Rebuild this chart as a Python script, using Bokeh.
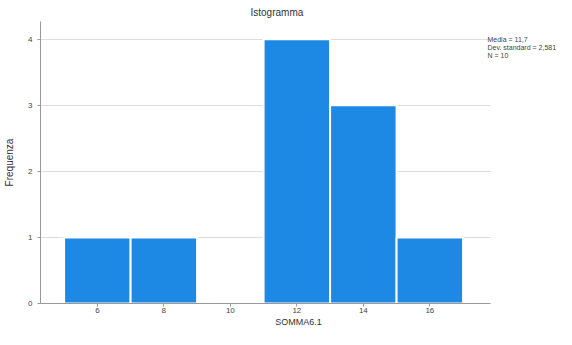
from bokeh.plotting import figure
from bokeh.models import FixedTicker, Range1d, Label
from bokeh.embed import file_html
from bokeh.resources import INLINE

# data
bin_centers = [6, 8, 10, 12, 14, 16]
counts = [1, 1, 0, 4, 3, 1]
bin_width = 2
tick_labels = ["6", "8", "10", "12", "14", "16"]
y_ticks = [0, 1, 2, 3, 4]
stats_lines = ["Media = 11,7", "Dev. standard = 2,581", "N = 10"]
title_text = "Istogramma"
x_label = "SOMMA6.1"
y_label = "Frequenza"

FONT = "Liberation Sans"
x_axis_start, x_axis_end = 4.29, 17.82

p = figure(width=556, height=329, output_backend="svg", toolbar_location=None,
           x_range=Range1d(x_axis_start, 19.81), y_range=Range1d(0, 4.27),
           min_border_left=40, min_border_right=0, min_border_bottom=0, min_border_top=0)

p.title.text = title_text
p.title.align = "left"
p.title.offset = 210
p.title.text_font = FONT
p.title.text_font_size = "10px"
p.title.text_font_style = "normal"
p.title.text_color = "#333333"
p.title.standoff = 8

p.vbar(x=bin_centers, top=counts, bottom=0, width=bin_width,
       fill_color="#1E88E5", line_color="white", line_width=2)

p.outline_line_color = None
p.background_fill_color = "white"
p.border_fill_color = "white"

p.xgrid.grid_line_color = None
p.ygrid.grid_line_color = "#dddddd"
p.ygrid.grid_line_width = 1
p.ygrid.cross_bounds = (x_axis_start, x_axis_end)

p.xaxis.ticker = FixedTicker(ticks=bin_centers)
p.xaxis.major_label_overrides = {c: l for c, l in zip(bin_centers, tick_labels)}
p.xaxis.bounds = (x_axis_start, x_axis_end)
p.yaxis.ticker = FixedTicker(ticks=y_ticks)

for ax in (p.xaxis[0], p.yaxis[0]):
    ax.axis_line_color = "#999999"
    ax.major_tick_line_color = "#999999"
    ax.minor_tick_line_color = None
    ax.major_tick_out = 3
    ax.major_tick_in = 0
    ax.major_label_text_font = FONT
    ax.major_label_text_font_size = "8px"
    ax.major_label_text_color = "#444444"
    ax.axis_label_text_font = FONT
    ax.axis_label_text_font_size = "10px"
    ax.axis_label_text_font_style = "normal"
    ax.axis_label_text_color = "#333333"

p.xaxis.axis_label_text_font_size = "9px"
p.xaxis.axis_label = x_label
p.yaxis.axis_label = y_label
p.xaxis.major_label_standoff = 1
p.xaxis.axis_label_standoff = 1
p.yaxis.major_label_standoff = 5
p.yaxis.axis_label_standoff = 10

for i, t in enumerate(stats_lines):
    p.add_layout(Label(x=447, y=264 - i * 8, x_units="screen", y_units="screen",
                       text=t, text_font=FONT, text_font_size="7px",
                       text_color="#444444", text_baseline="middle"))

open("out.html", "w").write(file_html(p, INLINE))
